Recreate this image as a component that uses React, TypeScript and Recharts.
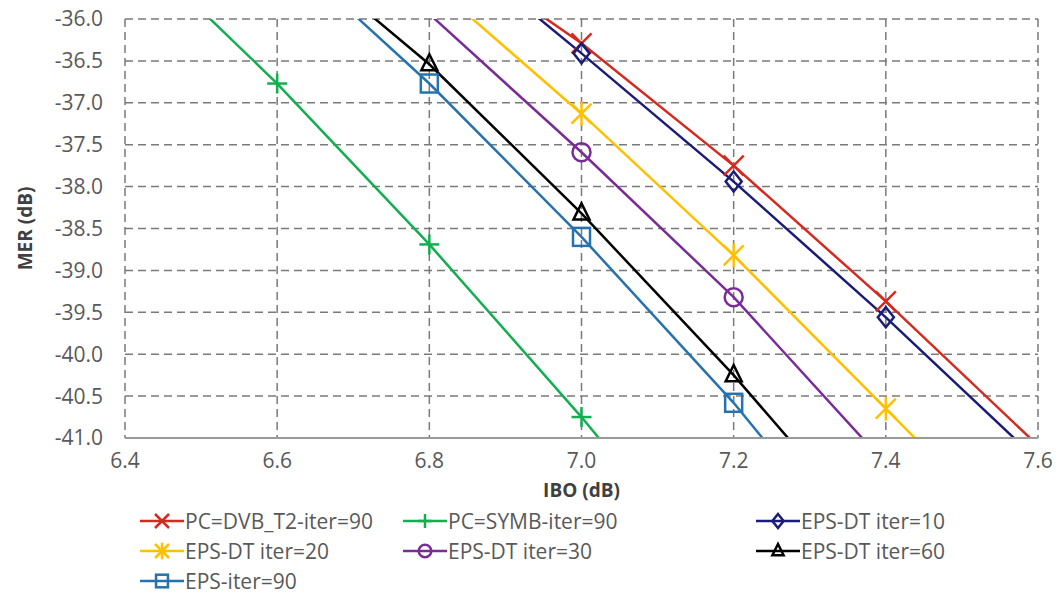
import { CartesianGrid, Line, LineChart, XAxis, YAxis } from "recharts";

// IBO values (dB) where each curve was sampled
const ibo = [6.4, 6.6, 6.8, 7.0, 7.2, 7.4, 7.6];

// MER (dB) per series, aligned to ibo, null where the curve has no sample
const dvbT2Iter90 = [null, null, -35.03, -36.29, -37.75, -39.37, -41.09];
const symbIter90 = [-35.02, -36.77, -38.69, -40.75, -42.95, null, null];
const epsDtIter10 = [null, null, -34.92, -36.41, -37.94, -39.56, -41.27];
const epsDtIter20 = [null, null, -35.55, -37.13, -38.82, -40.65, -42.49];
const epsDtIter30 = [null, null, -35.94, -37.59, -39.32, -41.31, null];
const epsDtIter60 = [null, -35.02, -36.54, -38.32, -40.25, -42.35, null];
const epsIter90 = [null, -35.11, -36.77, -38.6, -40.58, -42.8, null];

const xTicks = [6.4, 6.6, 6.8, 7.0, 7.2, 7.4, 7.6];
const yTicks = [-41, -40.5, -40, -39.5, -39, -38.5, -38, -37.5, -37, -36.5, -36];

type Shape = "x" | "plus" | "diamond" | "star" | "circle" | "triangle" | "square";

const series: { key: string; name: string; color: string; shape: Shape; values: (number | null)[] }[] = [
    { key: "dvb", name: "PC=DVB_T2-iter=90", color: "#D42A20", shape: "x", values: dvbT2Iter90 },
    { key: "symb", name: "PC=SYMB-iter=90", color: "#12AE50", shape: "plus", values: symbIter90 },
    { key: "dt10", name: "EPS-DT iter=10", color: "#1B1B78", shape: "diamond", values: epsDtIter10 },
    { key: "dt20", name: "EPS-DT iter=20", color: "#FFC000", shape: "star", values: epsDtIter20 },
    { key: "dt30", name: "EPS-DT iter=30", color: "#7A2C96", shape: "circle", values: epsDtIter30 },
    { key: "dt60", name: "EPS-DT iter=60", color: "#000000", shape: "triangle", values: epsDtIter60 },
    { key: "eps90", name: "EPS-iter=90", color: "#2672AE", shape: "square", values: epsIter90 },
];

const data = ibo.map((x, i) => {
    const row: { [k: string]: number | null } = { ibo: x };
    series.forEach(s => { row[s.key] = s.values[i] });
    return row;
});

const FONT = "'Open Sans', sans-serif";

function Marker({ cx, cy, r, shape, color, sw }: { cx: number; cy: number; r: number; shape: Shape; color: string; sw: number }) {
    const p = { stroke: color, strokeWidth: sw, fill: "none" };
    switch (shape) {
        case "x":
            return <g {...p}><line x1={cx - r} y1={cy - r} x2={cx + r} y2={cy + r} /><line x1={cx - r} y1={cy + r} x2={cx + r} y2={cy - r} /></g>;
        case "plus":
            return <g {...p}><line x1={cx - r} y1={cy} x2={cx + r} y2={cy} /><line x1={cx} y1={cy - r} x2={cx} y2={cy + r} /></g>;
        case "star":
            return <g {...p}><line x1={cx - r} y1={cy - r} x2={cx + r} y2={cy + r} /><line x1={cx - r} y1={cy + r} x2={cx + r} y2={cy - r} /><line x1={cx} y1={cy - r * 1.2} x2={cx} y2={cy + r * 1.2} /></g>;
        case "diamond":
            return <polygon {...p} points={`${cx},${cy - r} ${cx + r * 0.8},${cy} ${cx},${cy + r} ${cx - r * 0.8},${cy}`} />;
        case "circle":
            return <circle {...p} cx={cx} cy={cy} r={r * 0.9} />;
        case "triangle":
            return <polygon {...p} points={`${cx},${cy - r} ${cx + r * 0.8},${cy + r * 0.6} ${cx - r * 0.8},${cy + r * 0.6}`} />;
        case "square":
            return <rect {...p} x={cx - r * 0.85} y={cy - r * 0.9} width={r * 1.7} height={r * 1.8} />;
    }
}

const ChartLegend = () => {
    const cols = [140, 403, 756];
    const rows = [521, 551, 581];
    return (
        <>
            {series.map((s, i) => (
                <div key={s.key} style={{
                    position: "absolute", left: cols[i % 3], top: rows[Math.floor(i / 3)] - 13,
                    display: "flex", alignItems: "center", height: 26,
                    fontFamily: FONT, fontSize: 21, color: "#595959", whiteSpace: "nowrap",
                }}>
                    <svg width={44} height={26}>
                        <line x1={0} y1={13} x2={44} y2={13} stroke={s.color} strokeWidth={2.5} />
                        <Marker cx={22} cy={13} r={7} shape={s.shape} color={s.color} sw={2.5} />
                    </svg>
                    <span style={{ marginLeft: 1 }}>{s.name}</span>
                </div>
            ))}
        </>
    );
};

export default function App() {
    return (
        <div style={{ position: "absolute", left: 0, top: 0, width: 1063, height: 596, background: "#fff" }}>
            <LineChart width={1063} height={596} data={data} margin={{ top: 19, right: 25, left: 0, bottom: 96 }}>
                <CartesianGrid stroke="#7a7a7a" strokeDasharray="8 5" strokeWidth={1.5} />
                <XAxis
                    type="number" dataKey="ibo" domain={[6.4, 7.6]} ticks={xTicks} allowDataOverflow
                    tickFormatter={(v: number) => v.toFixed(1)} height={62}
                    tickLine={false} tickSize={0} tickMargin={15}
                    axisLine={{ stroke: "#9a9a9a", strokeWidth: 2 }}
                    tick={{ fill: "#595959", fontSize: 21, fontFamily: FONT }}
                    label={{ value: "IBO (dB)", position: "insideBottom", offset: 3, fill: "#404040", fontSize: 19, fontWeight: 700, fontFamily: FONT }}
                />
                <YAxis
                    type="number" domain={[-41, -36]} ticks={yTicks} allowDataOverflow
                    tickFormatter={(v: number) => v.toFixed(1)} width={125}
                    tickLine={false} tickSize={0} tickMargin={22} axisLine={false}
                    tick={{ fill: "#595959", fontSize: 21, fontFamily: FONT }}
                    label={{ value: "MER (dB)", angle: -90, position: "insideLeft", offset: 25, fill: "#404040", fontSize: 19, fontWeight: 700, fontFamily: FONT, style: { textAnchor: "middle" } }}
                />
                {series.map(s => (
                    <Line
                        key={s.key} type="linear" dataKey={s.key} name={s.name} stroke={s.color} strokeWidth={2.5}
                        isAnimationActive={false} activeDot={false}
                        dot={(p: any) => {
                            const v = p.value;
                            if (v == null || v < -41 || v > -36) return <g key={`${s.key}-${p.index}`} />;
                            return <Marker key={`${s.key}-${p.index}`} cx={p.cx} cy={p.cy} r={10} shape={s.shape} color={s.color} sw={2.5} />;
                        }}
                    />
                ))}
            </LineChart>
            <ChartLegend />
        </div>
    );
}
